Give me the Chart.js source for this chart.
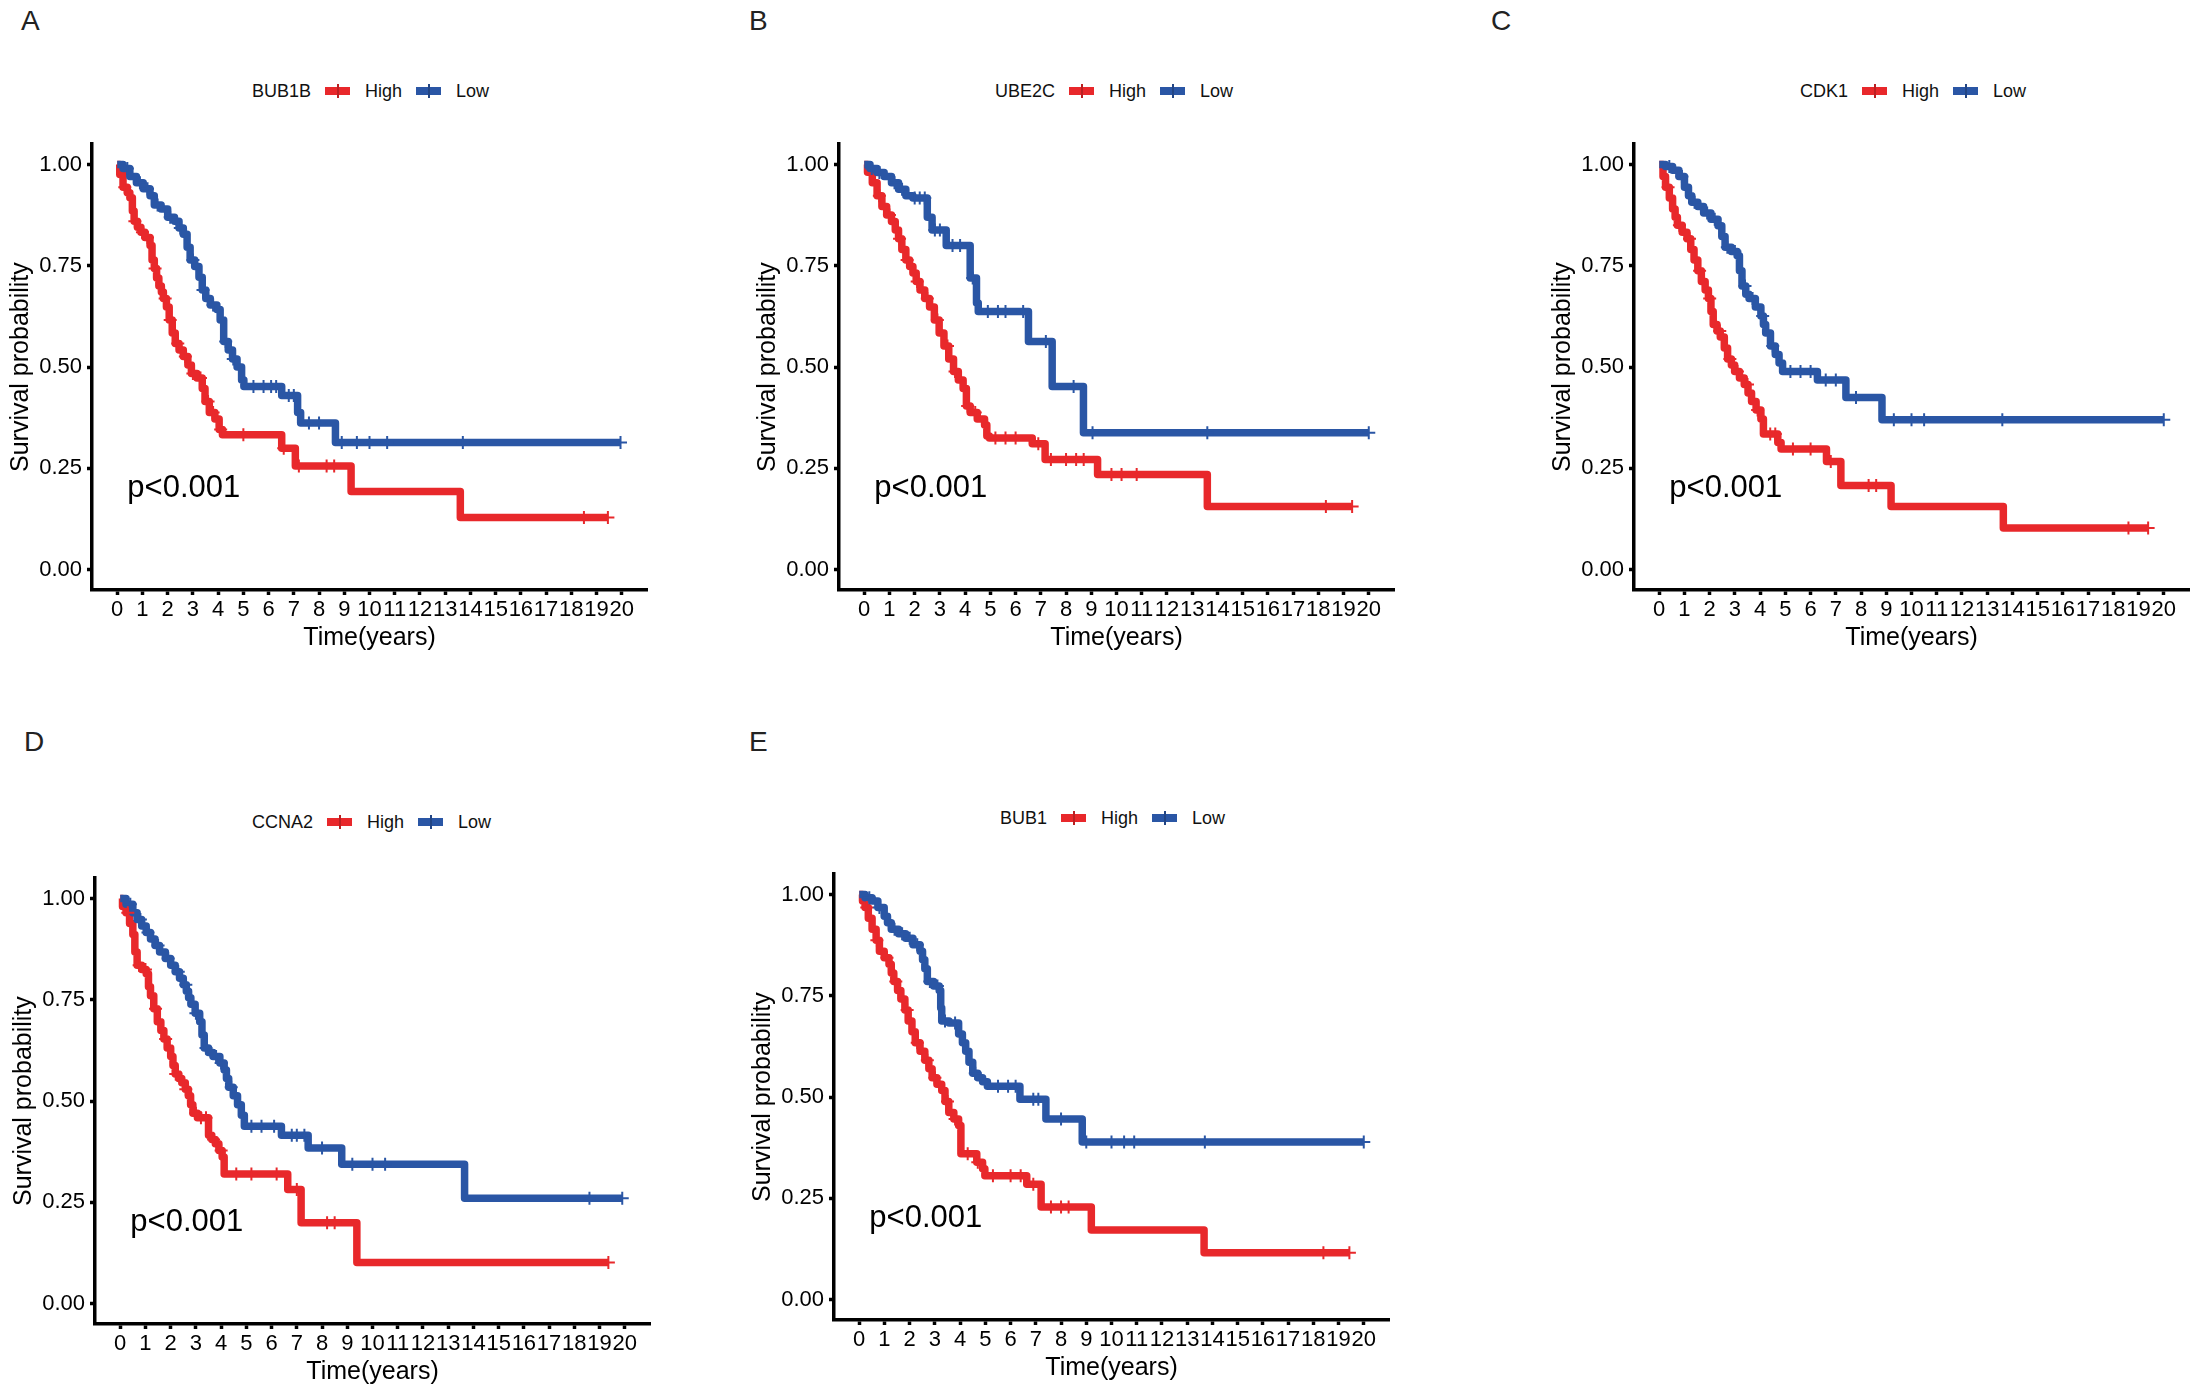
<!DOCTYPE html>
<html lang="en">
<head>
<meta charset="UTF-8">
<title>Survival curves</title>
<script src="https://cdn.jsdelivr.net/npm/chart.js@4"></script>
<style>
  body { margin: 0; background: #fff; }
  #fig { position: relative; width: 2200px; height: 1392px; background: #fff; overflow: hidden;
         font-family: "Liberation Sans", Arial, Helvetica, sans-serif; }
  .lab { position: absolute; font-size: 28px; line-height: 28px; color: #222; }
  .leg { position: absolute; height: 20px; font-size: 18px; color: #111; display: flex; align-items: center; white-space: nowrap; }
  .key { display: inline-block; width: 25px; height: 8px; position: relative; margin: 0 15px 0 14px; }
  .key i { position: absolute; left: 11.5px; top: -3px; width: 2px; height: 14px; background: inherit; filter: brightness(0.8); }
  canvas { position: absolute; }
</style>
</head>
<body>
<div id="fig"></div>
<script>
// ---- data ----
const genes = ['BUB1B', 'UBE2C', 'CDK1', 'CCNA2', 'BUB1'];
const groups = ['High', 'Low'];
const panelLetters = ['A', 'B', 'C', 'D', 'E'];
const xTicks = [0,1,2,3,4,5,6,7,8,9,10,11,12,13,14,15,16,17,18,19,20];
const yTicks = [0, 0.25, 0.5, 0.75, 1];
const yTickLabels = ['0.00', '0.25', '0.50', '0.75', '1.00'];
const pText = 'p<0.001';

// A - BUB1B
const aHighT = [0, 0.1, 0.23, 0.4, 0.5, 0.6, 0.67, 0.8, 0.94, 1.1, 1.3, 1.38, 1.47, 1.56, 1.65, 1.75, 1.83, 1.95, 2.06, 2.18, 2.3, 2.45, 2.62, 2.8, 2.94, 3.16, 3.37, 3.48, 3.65, 3.87, 4.04, 4.17, 6.52, 7.06, 9.27, 13.6, 19.45];
const aHighS = [1, 0.975, 0.944, 0.93, 0.918, 0.885, 0.86, 0.845, 0.833, 0.82, 0.80, 0.764, 0.743, 0.72, 0.70, 0.685, 0.669, 0.648, 0.616, 0.584, 0.558, 0.542, 0.526, 0.505, 0.484, 0.473, 0.447, 0.415, 0.388, 0.372, 0.346, 0.333, 0.30, 0.256, 0.193, 0.129, 0.129];
const aHighCens = [0.3, 0.7, 1.0, 1.2, 1.5, 1.9, 2.1, 2.4, 2.7, 3.0, 3.3, 3.6, 3.8, 4.1, 5.0, 6.6, 7.2, 8.3, 8.6, 18.5, 19.45];
const aLowT = [0, 0.23, 0.5, 0.76, 1.03, 1.3, 1.47, 1.74, 2.0, 2.27, 2.45, 2.62, 2.77, 2.89, 3.07, 3.24, 3.37, 3.51, 3.69, 3.95, 4.08, 4.22, 4.4, 4.57, 4.75, 4.93, 5.02, 6.52, 7.15, 7.27, 8.65, 19.95];
const aLowS = [1, 0.99, 0.97, 0.955, 0.94, 0.923, 0.90, 0.89, 0.87, 0.86, 0.843, 0.828, 0.796, 0.764, 0.748, 0.722, 0.69, 0.669, 0.653, 0.642, 0.616, 0.563, 0.542, 0.52, 0.50, 0.468, 0.452, 0.43, 0.388, 0.362, 0.314, 0.314];
const aLowCens = [0.4, 0.9, 1.2, 1.6, 2.1, 2.5, 3.0, 3.4, 3.8, 4.3, 4.6, 5.4, 5.8, 6.1, 6.3, 6.8, 7.0, 7.6, 8.0, 8.9, 9.5, 10.0, 10.7, 13.7, 19.95];

// B - UBE2C
const bHighT = [0, 0.13, 0.32, 0.51, 0.7, 0.89, 1.08, 1.23, 1.36, 1.49, 1.65, 1.8, 1.93, 2.06, 2.21, 2.4, 2.59, 2.78, 2.97, 3.16, 3.35, 3.54, 3.73, 3.92, 4.05, 4.2, 4.48, 4.77, 4.86, 4.96, 6.66, 7.17, 9.25, 13.6, 19.34];
const bHighS = [1, 0.981, 0.955, 0.923, 0.896, 0.875, 0.859, 0.838, 0.817, 0.79, 0.764, 0.748, 0.732, 0.711, 0.69, 0.669, 0.648, 0.616, 0.584, 0.552, 0.52, 0.489, 0.468, 0.447, 0.404, 0.388, 0.372, 0.357, 0.33, 0.325, 0.311, 0.272, 0.235, 0.156, 0.156];
const bHighCens = [0.6, 1.0, 1.4, 1.7, 2.1, 2.5, 2.9, 3.3, 3.6, 4.1, 4.4, 5.2, 5.6, 6.0, 6.9, 7.4, 8.0, 8.4, 8.7, 9.8, 10.2, 10.8, 18.3, 19.34];
const bLowT = [0, 0.23, 0.51, 0.79, 1.08, 1.36, 1.65, 1.93, 2.5, 2.69, 3.25, 4.2, 4.45, 4.52, 6.51, 7.45, 8.69, 20.0];
const bLowS = [1, 0.99, 0.98, 0.97, 0.955, 0.939, 0.923, 0.917, 0.87, 0.838, 0.80, 0.72, 0.658, 0.637, 0.563, 0.452, 0.338, 0.338];
const bLowCens = [0.3, 0.6, 1.2, 1.5, 2.0, 2.2, 2.4, 2.8, 3.0, 3.5, 3.8, 4.3, 4.9, 5.3, 5.6, 6.3, 7.2, 8.3, 9.05, 13.6, 20.0];

// C - CDK1
const cHighT = [0, 0.15, 0.25, 0.4, 0.53, 0.63, 0.72, 0.91, 1.1, 1.25, 1.38, 1.53, 1.67, 1.82, 1.95, 2.05, 2.14, 2.29, 2.42, 2.58, 2.71, 2.86, 2.99, 3.18, 3.37, 3.52, 3.66, 3.84, 4.03, 4.13, 4.7, 4.83, 6.63, 7.2, 9.19, 13.64, 19.38];
const cHighS = [1, 0.97, 0.944, 0.917, 0.89, 0.87, 0.85, 0.833, 0.817, 0.79, 0.764, 0.738, 0.711, 0.69, 0.669, 0.637, 0.605, 0.589, 0.574, 0.547, 0.52, 0.505, 0.489, 0.473, 0.457, 0.436, 0.415, 0.394, 0.372, 0.335, 0.314, 0.298, 0.267, 0.208, 0.156, 0.103, 0.103];
const cHighCens = [0.35, 0.8, 1.2, 1.6, 2.0, 2.4, 2.8, 3.1, 3.5, 3.9, 4.4, 4.6, 5.3, 6.0, 6.8, 8.3, 8.6, 18.6, 19.38];
const cLowT = [0, 0.25, 0.53, 0.78, 1.0, 1.16, 1.29, 1.53, 1.76, 2.05, 2.33, 2.48, 2.61, 2.86, 3.09, 3.18, 3.28, 3.43, 3.56, 3.81, 4.03, 4.13, 4.22, 4.41, 4.6, 4.75, 4.89, 6.27, 7.4, 8.83, 20.0];
const cLowS = [1, 0.995, 0.986, 0.97, 0.944, 0.923, 0.907, 0.896, 0.88, 0.865, 0.849, 0.822, 0.796, 0.785, 0.775, 0.738, 0.70, 0.68, 0.669, 0.648, 0.626, 0.605, 0.584, 0.552, 0.531, 0.51, 0.489, 0.468, 0.425, 0.37, 0.37];
const cLowCens = [0.4, 0.9, 1.4, 1.9, 2.2, 2.7, 3.0, 3.4, 3.7, 4.1, 4.5, 5.2, 5.6, 6.0, 6.6, 7.0, 7.8, 9.3, 10.0, 10.5, 13.6, 20.0];

// D - CCNA2
const dHighT = [0, 0.09, 0.23, 0.37, 0.5, 0.58, 0.67, 0.85, 1.03, 1.12, 1.2, 1.33, 1.47, 1.61, 1.73, 1.86, 2.0, 2.09, 2.18, 2.32, 2.44, 2.58, 2.7, 2.79, 2.88, 3.06, 3.5, 3.63, 3.77, 3.91, 4.04, 4.12, 6.64, 7.17, 9.38, 19.35];
const dHighS = [1, 0.98, 0.965, 0.938, 0.911, 0.868, 0.835, 0.825, 0.814, 0.782, 0.76, 0.728, 0.696, 0.674, 0.653, 0.631, 0.61, 0.588, 0.567, 0.556, 0.545, 0.529, 0.513, 0.491, 0.47, 0.459, 0.416, 0.405, 0.395, 0.378, 0.362, 0.32, 0.282, 0.20, 0.102, 0.102];
const dHighCens = [0.3, 0.75, 1.0, 1.4, 1.8, 2.2, 2.6, 3.0, 3.2, 3.4, 3.7, 4.0, 4.6, 5.2, 6.2, 7.0, 8.2, 8.5, 19.35];
const dLowT = [0, 0.23, 0.5, 0.67, 0.85, 1.03, 1.2, 1.38, 1.56, 1.79, 2.0, 2.18, 2.35, 2.5, 2.62, 2.71, 2.8, 2.97, 3.15, 3.24, 3.33, 3.5, 3.68, 3.95, 4.12, 4.21, 4.3, 4.48, 4.65, 4.8, 4.92, 6.39, 7.45, 8.78, 13.65, 19.9];
const dLowS = [1, 0.986, 0.965, 0.948, 0.932, 0.916, 0.90, 0.884, 0.868, 0.852, 0.835, 0.819, 0.803, 0.787, 0.771, 0.755, 0.739, 0.717, 0.696, 0.663, 0.631, 0.62, 0.61, 0.594, 0.577, 0.556, 0.534, 0.513, 0.491, 0.465, 0.438, 0.416, 0.384, 0.344, 0.26, 0.26];
const dLowCens = [0.4, 0.8, 1.1, 1.5, 1.9, 2.3, 2.6, 3.0, 3.4, 3.8, 4.0, 4.4, 5.2, 5.6, 6.1, 6.8, 7.0, 7.3, 8.0, 9.2, 10.0, 10.5, 18.6, 19.9];

// E - BUB1
const eHighT = [0, 0.13, 0.23, 0.36, 0.51, 0.67, 0.8, 0.99, 1.18, 1.27, 1.37, 1.52, 1.65, 1.81, 1.94, 2.09, 2.22, 2.41, 2.6, 2.76, 2.89, 3.08, 3.27, 3.4, 3.55, 3.75, 3.94, 4.03, 4.66, 4.89, 4.98, 6.64, 7.21, 9.2, 13.67, 19.43];
const eHighS = [1, 0.984, 0.968, 0.941, 0.914, 0.887, 0.86, 0.844, 0.828, 0.806, 0.785, 0.763, 0.742, 0.715, 0.688, 0.661, 0.634, 0.613, 0.591, 0.57, 0.548, 0.532, 0.516, 0.489, 0.462, 0.446, 0.43, 0.36, 0.339, 0.323, 0.306, 0.285, 0.229, 0.172, 0.116, 0.116];
const eHighCens = [0.3, 0.7, 1.1, 1.45, 1.9, 2.3, 2.7, 3.0, 3.5, 3.8, 4.3, 4.7, 5.3, 6.0, 6.4, 6.9, 7.6, 8.0, 8.3, 18.4, 19.43];
const eLowT = [0, 0.23, 0.51, 0.74, 0.99, 1.12, 1.27, 1.56, 1.84, 2.13, 2.41, 2.51, 2.6, 2.7, 2.95, 3.17, 3.23, 3.27, 3.56, 3.94, 4.09, 4.22, 4.35, 4.5, 4.7, 4.89, 5.08, 6.37, 7.4, 8.84, 20.0];
const eLowS = [1, 0.992, 0.984, 0.968, 0.946, 0.93, 0.914, 0.903, 0.892, 0.876, 0.86, 0.839, 0.817, 0.785, 0.774, 0.763, 0.72, 0.688, 0.683, 0.656, 0.634, 0.613, 0.586, 0.559, 0.548, 0.538, 0.527, 0.495, 0.446, 0.389, 0.389];
const eLowCens = [0.4, 0.8, 1.4, 1.7, 2.0, 2.3, 2.8, 3.1, 3.4, 3.8, 4.6, 5.5, 5.9, 6.2, 6.9, 7.1, 8.0, 9.0, 10.0, 10.5, 10.9, 13.7, 20.0];

// ---- layout ----
const RED = '#E8282B', BLUE = '#2A56A5';
const panels = [
  { high: [aHighT, aHighS, aHighCens], low: [aLowT, aLowS, aLowCens], area: [92, 138, 647, 590],  lab: [21, 7],    leg: [252, 91] },
  { high: [bHighT, bHighS, bHighCens], low: [bLowT, bLowS, bLowCens], area: [839, 138, 1394, 590], lab: [749, 7],   leg: [995, 91] },
  { high: [cHighT, cHighS, cHighCens], low: [cLowT, cLowS, cLowCens], area: [1634, 138, 2189, 590], lab: [1491, 7], leg: [1800, 91] },
  { high: [dHighT, dHighS, dHighCens], low: [dLowT, dLowS, dLowCens], area: [95, 872, 650, 1324],  lab: [24, 728],  leg: [252, 822] },
  { high: [eHighT, eHighS, eHighCens], low: [eLowT, eLowS, eLowCens], area: [834, 868, 1389, 1320], lab: [749, 728], leg: [1000, 818] }
];

Chart.defaults.font.family = '"Liberation Sans", Arial, Helvetica, sans-serif';
Chart.defaults.color = '#000';

// value of the KM step function at time t
function stepAt(T, S, t) {
  let v = S[0];
  for (let i = 0; i < T.length; i++) { if (T[i] <= t) v = S[i]; }
  return v;
}

const pLabel = {
  id: 'pLabel',
  afterDatasetsDraw(chart) {
    const c = chart.ctx;
    c.save();
    c.font = '31px "Liberation Sans", Arial, sans-serif';
    c.fillStyle = '#000';
    c.textBaseline = 'middle';
    c.fillText(pText, chart.scales.x.getPixelForValue(0.4), chart.scales.y.getPixelForValue(0.2));
    c.restore();
  }
};

const fig = document.getElementById('fig');
const YW = 92, XH = 70, PAD = 12;

panels.forEach((p, k) => {
  // panel letter
  const lab = document.createElement('div');
  lab.className = 'lab';
  lab.style.left = p.lab[0] + 'px';
  lab.style.top = p.lab[1] + 'px';
  lab.textContent = panelLetters[k];
  fig.appendChild(lab);

  // legend
  const leg = document.createElement('div');
  leg.className = 'leg';
  leg.style.left = p.leg[0] + 'px';
  leg.style.top = (p.leg[1] - 10) + 'px';
  leg.innerHTML = '<span>' + genes[k] + '</span>' +
    '<span class="key" style="background:' + RED + '"><i></i></span><span>' + groups[0] + '</span>' +
    '<span class="key" style="background:' + BLUE + '"><i></i></span><span>' + groups[1] + '</span>';
  fig.appendChild(leg);

  // canvas
  const [l, t, r, b] = p.area;
  const x0 = l - YW, y0 = t - PAD;
  const w = r - x0 + PAD, h = b - y0 + XH;
  const cv = document.createElement('canvas');
  cv.width = w; cv.height = h;
  cv.style.left = x0 + 'px'; cv.style.top = y0 + 'px';
  cv.style.width = w + 'px'; cv.style.height = h + 'px';
  fig.appendChild(cv);

  const line = (arr, col) => ({
    data: arr[0].map((tt, i) => ({ x: tt, y: arr[1][i] })),
    borderColor: col, backgroundColor: col, borderWidth: 7.5,
    stepped: true, pointRadius: 0, fill: false,
    borderJoinStyle: 'round', borderCapStyle: 'butt', order: 2
  });
  const marks = (arr, col) => ({
    data: arr[2].map(tt => ({ x: tt, y: stepAt(arr[0], arr[1], tt) })),
    showLine: false, borderColor: col, backgroundColor: col,
    pointStyle: 'cross', pointRadius: 6.5, pointBorderWidth: 2, order: 1
  });

  new Chart(cv, {
    type: 'line',
    data: { datasets: [line(p.low, BLUE), line(p.high, RED), marks(p.low, BLUE), marks(p.high, RED)] },
    options: {
      responsive: false, animation: false, events: [],
      devicePixelRatio: 1,
      layout: { padding: { left: 0, top: PAD, right: PAD, bottom: 0 } },
      plugins: { legend: { display: false }, tooltip: { enabled: false } },
      scales: {
        x: {
          type: 'linear', min: -1, max: 21,
          afterBuildTicks: s => { s.ticks = xTicks.map(v => ({ value: v })); },
          afterFit: s => { s.height = XH; },
          ticks: { autoSkip: false, maxRotation: 0, minRotation: 0, padding: 2, font: { size: 22 }, color: '#000' },
          grid: { drawOnChartArea: false, drawTicks: true, tickLength: 5, tickWidth: 3.5, tickColor: '#000' },
          border: { display: true, color: '#000', width: 3.5 },
          title: { display: true, text: 'Time(years)', font: { size: 25 }, color: '#000', padding: { top: 0, bottom: 7 } }
        },
        y: {
          type: 'linear', min: -0.05, max: 1.05,
          afterBuildTicks: s => { s.ticks = yTicks.map(v => ({ value: v })); },
          afterFit: s => { s.width = YW; },
          ticks: { padding: 5, font: { size: 22 }, color: '#000', callback: (v, i) => yTickLabels[i] },
          grid: { drawOnChartArea: false, drawTicks: true, tickLength: 5, tickWidth: 3.5, tickColor: '#000' },
          border: { display: true, color: '#000', width: 3.5 },
          title: { display: true, text: 'Survival probability', font: { size: 25 }, color: '#000', padding: { top: 6, bottom: 0 } }
        }
      }
    },
    plugins: [pLabel]
  });
});
</script>
</body>
</html>
